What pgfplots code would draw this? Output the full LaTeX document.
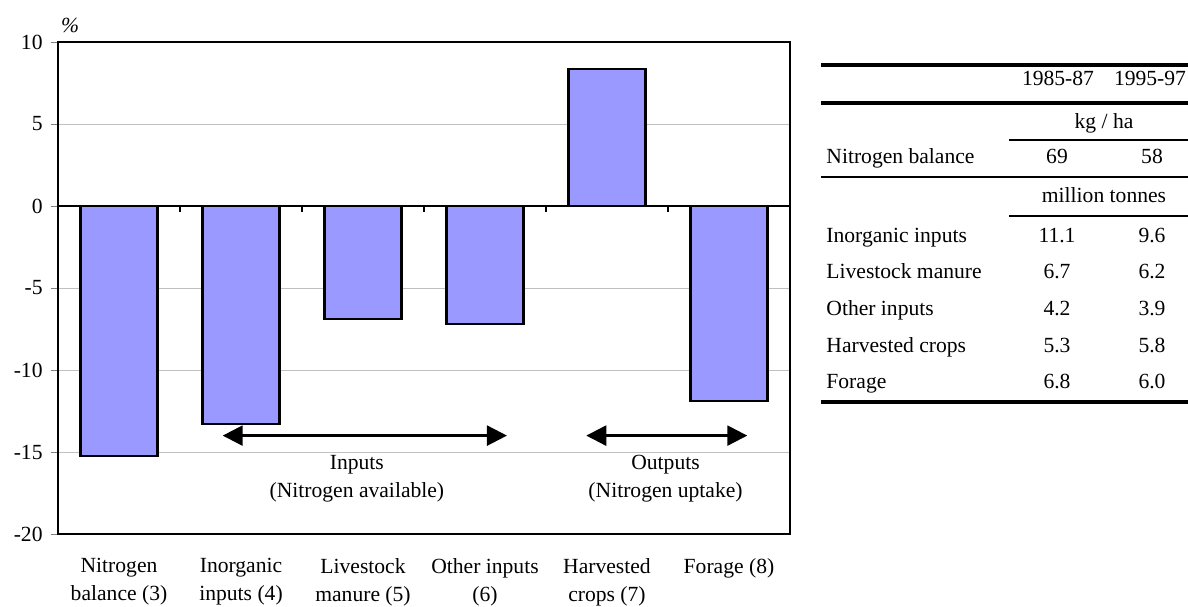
\documentclass[border=0pt]{standalone}
\usepackage{pgfplots}
\pgfplotsset{compat=1.18}
\usepackage{fontspec}
\setmainfont{Liberation Serif}
\usetikzlibrary{arrows.meta}
\definecolor{barblue}{HTML}{9999FF}
\definecolor{gridgray}{HTML}{C0C0C0}

\begin{document}
\begin{tikzpicture}[font=\fontsize{10.8}{14}\selectfont]
\begin{axis}[
  name=ax, at={(0,0)}, anchor=south west,
  scale only axis, width=366pt, height=246pt,
  xmin=-0.5, xmax=5.5, ymin=-20, ymax=10,
  ybar, bar width=38.5pt,
  ytick={-20,-15,-10,-5,0,5,10},
  yticklabels={-20,-15,-10,-5,0,5,10},
  ymajorgrids, grid style={gridgray, line width=0.5pt},
  tick align=outside, ytick pos=left, major tick length=3.5pt,
  yticklabel style={inner sep=1.5pt, xshift=-2.5pt},
  xtick={0,...,5},
  xticklabels={{Nitrogen\\balance (3)},{Inorganic\\inputs (4)},{Livestock\\manure (5)},{Other inputs\\(6)},{Harvested\\crops (7)},{Forage (8)}},
  xticklabel style={align=center, anchor=north, yshift=-5pt},
  xtick style={draw=none},
  axis line style={black, line width=0.8pt},
  clip=false,
]
\addplot[fill=barblue, draw=black, line width=1.2pt]
  coordinates {(0,-15.25) (1,-13.3) (2,-6.9) (3,-7.2) (4,8.35) (5,-11.9)};

% zero line with category ticks
\draw[black, line width=0.8pt] (axis cs:-0.5,0) -- (axis cs:5.5,0);
\draw[black, line width=0.6pt] (axis cs:0.5,0) -- (axis cs:0.5,-0.37);
\draw[black, line width=0.6pt] (axis cs:1.5,0) -- (axis cs:1.5,-0.37);
\draw[black, line width=0.6pt] (axis cs:2.5,0) -- (axis cs:2.5,-0.37);
\draw[black, line width=0.6pt] (axis cs:3.5,0) -- (axis cs:3.5,-0.37);
\draw[black, line width=0.6pt] (axis cs:4.5,0) -- (axis cs:4.5,-0.37);

\draw[{Triangle[length=10pt,width=10pt]}-{Triangle[length=10pt,width=10pt]}, line width=1.2pt]
  (axis cs:0.85,-14) -- (axis cs:3.18,-14);
\draw[{Triangle[length=10pt,width=10pt]}-{Triangle[length=10pt,width=10pt]}, line width=1.2pt]
  (axis cs:3.83,-14) -- (axis cs:5.15,-14);
\node[align=center] at (axis cs:1.95,-16.65) {Inputs\\(Nitrogen available)};
\node[align=center] at (axis cs:4.48,-16.65) {Outputs\\(Nitrogen uptake)};
\node at (rel axis cs:0,1) [xshift=6pt, yshift=8.5pt] {\textit{\%}};
\end{axis}

% table on the right (coordinates in pixels of the reference)
\begin{scope}[shift={(-29pt,267pt)}, x=0.5pt, y=-0.5pt,
  every node/.style={text height=0.7em, text depth=0.2em, inner sep=0pt}]
\draw[line width=2.2pt] (821,65) -- (1188,65);
\node at (1058,81) {1985-87};
\node at (1150,81) {1995-97};
\draw[line width=1.8pt] (821,103) -- (1188,103);
\node at (1104,124) {kg / ha};
\draw[line width=1.3pt] (1009,140) -- (1188,140);
\node[anchor=west] at (826,159) {Nitrogen balance};
\node at (1057,159) {69};
\node at (1152,159) {58};
\draw[line width=1.3pt] (821,177) -- (1188,177);
\node at (1104,198) {million tonnes};
\draw[line width=1.3pt] (1009,216) -- (1188,216);
\node[anchor=west] at (826,237) {Inorganic inputs};
\node at (1057,237) {11.1};
\node at (1152,237) {9.6};
\node[anchor=west] at (826,273) {Livestock manure};
\node at (1057,273) {6.7};
\node at (1152,273) {6.2};
\node[anchor=west] at (826,310) {Other inputs};
\node at (1057,310) {4.2};
\node at (1152,310) {3.9};
\node[anchor=west] at (826,347) {Harvested crops};
\node at (1057,347) {5.3};
\node at (1152,347) {5.8};
\node[anchor=west] at (826,383) {Forage};
\node at (1057,383) {6.8};
\node at (1152,383) {6.0};
\draw[line width=1.8pt] (821,402) -- (1188,402);
\end{scope}

\pgfresetboundingbox
\path[use as bounding box] (-29pt,-36pt) rectangle (565pt,267pt);
\end{tikzpicture}
\end{document}
